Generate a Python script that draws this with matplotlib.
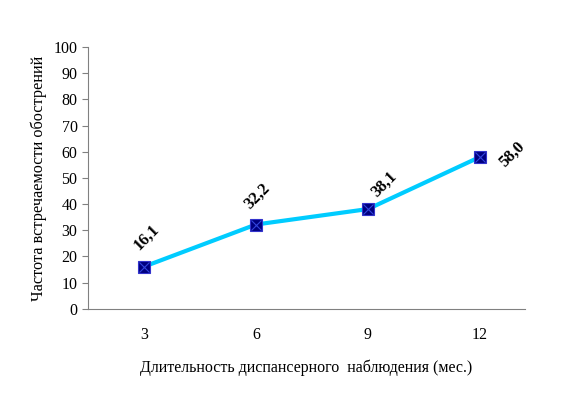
import matplotlib.pyplot as plt
import numpy as np

plt.rcParams['font.family'] = ['Liberation Serif', 'DejaVu Serif']

months = ['3', '6', '9', '12']
values = [16.1, 32.2, 38.1, 58.0]
value_labels = ['16,1', '32,2', '38,1', '58,0']
# label offsets in points (x, y)
label_offsets = [(2, 21), (1, 20), (12, 18), (23, 2)]

fig = plt.figure(figsize=(5.71, 4.08), dpi=100)
ax = fig.add_axes([0.154, 0.243, 0.765, 0.642])

x = np.arange(len(months))
ax.plot(x, values, color='#00CCFF', linewidth=3, zorder=2)
ax.plot(x, values, linestyle='none', marker='s', markersize=8.8,
        markerfacecolor='#000080', markeredgecolor='#3333CC', markeredgewidth=0.8, zorder=3)
ax.plot(x, values, linestyle='none', marker='x', markersize=7.5,
        markeredgecolor='#3344DD', markeredgewidth=0.8, zorder=4)

for xi, v, lab, off in zip(x, values, value_labels, label_offsets):
    ax.annotate(lab, (xi, v), xytext=off, textcoords='offset points',
                ha='center', va='center', rotation=45, fontsize=12, fontweight='bold')

ax.set_xlim(-0.5, 3.4)
ax.set_ylim(0, 100)
ax.set_yticks(range(0, 101, 10))
ax.set_xticks(x)
ax.set_xticklabels(months)
ax.tick_params(axis='x', length=0, pad=13, labelsize=11.5)
ax.tick_params(axis='y', length=4, direction='out', labelsize=11.5, color='#808080')

for side in ['top', 'right']:
    ax.spines[side].set_visible(False)
for side in ['left', 'bottom']:
    ax.spines[side].set_color('#808080')

ax.set_ylabel('Частота встречаемости обострений', fontsize=11.7, labelpad=5)
ax.set_xlabel('Длительность диспансерного  наблюдения (мес.)', fontsize=11.5, labelpad=12)

fig.savefig('out.png', dpi=100)
